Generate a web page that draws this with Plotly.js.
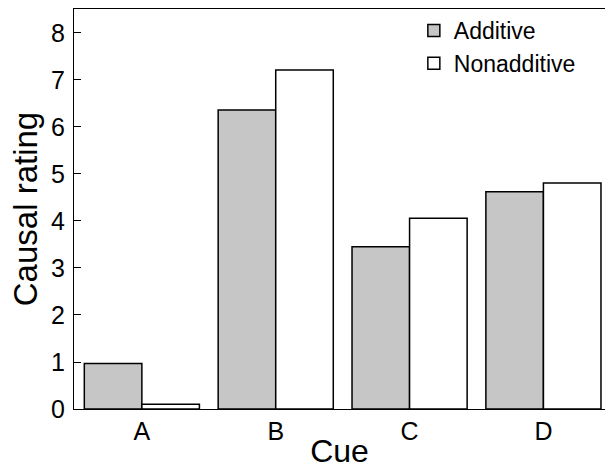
<!DOCTYPE html>
<html><head><meta charset="utf-8">
<script src="https://cdn.plot.ly/plotly-3.0.1.min.js"></script>
<style>html,body{margin:0;padding:0;background:#fff}</style>
</head><body>
<div id="chart" style="width:607px;height:469px"></div>
<script>
var categories = ["A", "B", "C", "D"];
var additive = [0.97, 6.36, 3.45, 4.62];
var nonadditive = [0.1, 7.21, 4.06, 4.81];
var yTicks = [0, 1, 2, 3, 4, 5, 6, 7, 8];

var traces = [
  {type: "bar", name: "Additive", x: categories, y: additive,
   marker: {color: "#c6c6c6", line: {color: "#000", width: 1.5}}},
  {type: "bar", name: "Nonadditive", x: categories, y: nonadditive,
   marker: {color: "#ffffff", line: {color: "#000", width: 1.5}}}
];
var layout = {
  width: 607, height: 469,
  margin: {l: 74, r: 2, t: 9, b: 60},
  paper_bgcolor: "#fff", plot_bgcolor: "#fff",
  font: {family: "Liberation Sans, Arial, sans-serif", color: "#000"},
  barmode: "group", bargap: 0.14, bargroupgap: 0,
  showlegend: true,
  legend: {x: 0.64, y: 1.0, xanchor: "left", yanchor: "top", bgcolor: "rgba(0,0,0,0)",
           font: {size: 23}, tracegroupgap: 0},
  xaxis: {range: [-0.507, 3.46], showline: true, linecolor: "#000", linewidth: 1.2, mirror: true,
          ticks: "", showgrid: false, zeroline: false, tickfont: {size: 25}, ticklabelstandoff: 0,
          title: {text: "Cue", font: {size: 32}, standoff: 0}},
  yaxis: {range: [0, 8.51], tickvals: yTicks, showline: true, linecolor: "#000", linewidth: 1.2,
          ticks: "inside", ticklen: 7, tickwidth: 1, tickcolor: "#000", showgrid: false, zeroline: false,
          tickfont: {size: 25}, ticklabelstandoff: 3,
          title: {text: "Causal rating", font: {size: 33}, standoff: 3}}
};
Plotly.newPlot("chart", traces, layout, {displayModeBar: false, staticPlot: true});
</script>
</body></html>
